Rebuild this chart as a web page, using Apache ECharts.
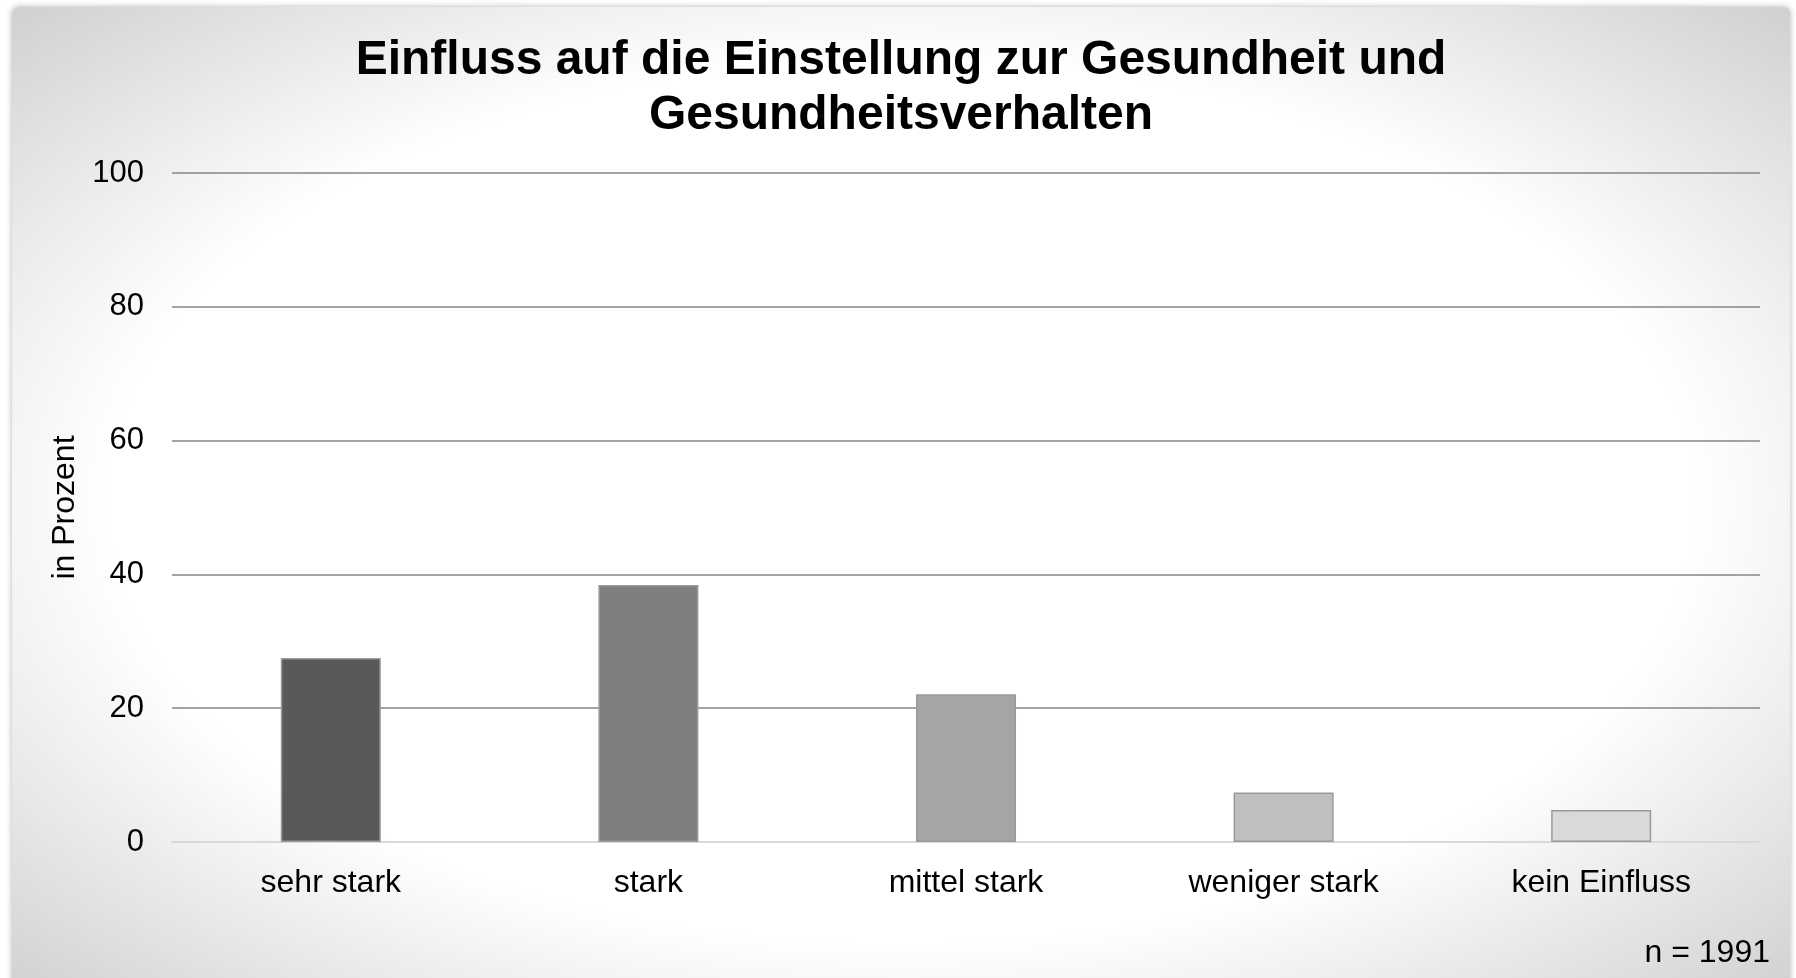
<!DOCTYPE html>
<html>
<head>
<meta charset="utf-8">
<script src="https://cdn.jsdelivr.net/npm/echarts@6/dist/echarts.min.js"></script>
<style>
  html, body { margin: 0; padding: 0; width: 1796px; height: 978px; overflow: hidden; background: #fff; }
  #box {
    position: absolute; left: 12px; top: 7px; width: 1778px; height: 990px;
    border-radius: 6px;
    box-shadow: 0 0 6px rgba(0,0,0,0.3);
    background: radial-gradient(ellipse farthest-corner at 50% 50%, #ffffff 63%, #d0d0d0 100%);
  }
  #chart { width: 100%; height: 100%; }
</style>
</head>
<body>
<div id="box"><div id="chart"></div></div>
<script>
// Werte in Prozent, n = 1991
const categories = ['sehr stark', 'stark', 'mittel stark', 'weniger stark', 'kein Einfluss'];
const values = [27.5, 38.4, 22.1, 7.4, 4.8];
const barColors = ['#595959', '#7f7f7f', '#a5a5a5', '#bfbfbf', '#d9d9d9'];
const titleText = 'Einfluss auf die Einstellung zur Gesundheit und\nGesundheitsverhalten';
const noteText = 'n = 1991';

const font = '"Liberation Sans", Arial, sans-serif';
const myChart = echarts.init(document.getElementById('chart'));
myChart.setOption({
  backgroundColor: 'transparent',
  textStyle: { fontFamily: font },
  title: {
    text: titleText,
    left: 'center',
    top: 21,
    textStyle: { fontSize: 48, fontWeight: 'bold', color: '#000', lineHeight: 55, fontFamily: font }
  },
  graphic: [{
    type: 'text',
    right: 20,
    top: 930,
    style: { text: noteText, fontSize: 32, fill: '#000', fontFamily: font }
  }],
  grid: { left: 160, top: 166, right: 30, height: 669 },
  xAxis: {
    type: 'category',
    data: categories,
    axisTick: { show: false },
    axisLine: { lineStyle: { color: '#d9d9d9', width: 2 } },
    axisLabel: { fontSize: 32, color: '#000', margin: 25 }
  },
  yAxis: {
    type: 'value',
    min: 0,
    max: 100,
    interval: 20,
    name: 'in Prozent',
    nameLocation: 'middle',
    nameRotate: 90,
    nameGap: 89,
    nameTextStyle: { fontSize: 32, color: '#000' },
    axisLine: { show: false },
    axisTick: { show: false },
    axisLabel: { fontSize: 31, color: '#000', margin: 28, padding: [9, 0, 0, 0] },
    splitLine: { lineStyle: { color: ['#d9d9d9', '#868686', '#868686', '#868686', '#868686', '#868686'], width: 1.6 } }
  },
  series: [{
    type: 'bar',
    barWidth: '31.5%',
    data: values.map((v, i) => ({
      value: v,
      itemStyle: { color: barColors[i], borderColor: '#9a9a9a', borderWidth: 1.5 }
    }))
  }]
});
</script>
</body>
</html>
